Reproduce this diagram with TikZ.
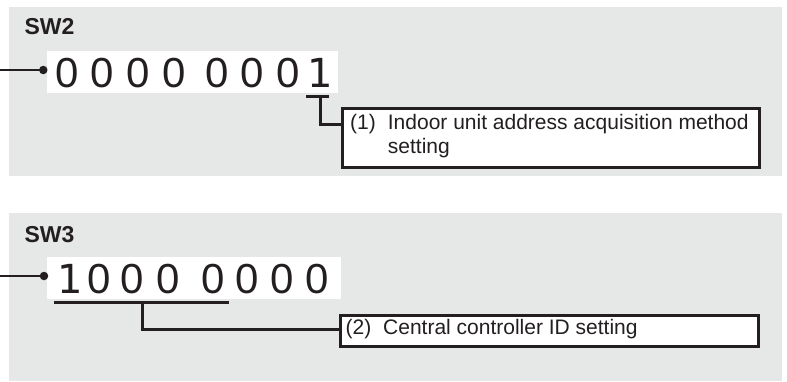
\documentclass[tikz,border=0pt]{standalone}
\usepackage{fontspec}
\setmainfont{Liberation Sans}
\newfontfamily\footedfont{DejaVu Sans}
\definecolor{panelgray}{HTML}{E6E7E7}
\definecolor{ink}{HTML}{231F20}
\begin{document}
\begin{tikzpicture}[x=1pt,y=-1pt,
  panel/.style={fill=panelgray,draw=none},
  strip/.style={fill=white,draw=none},
  digit/.style={anchor=base,inner sep=0pt,text=ink,font=\fontsize{42}{42}\selectfont},
  onedigit/.style={digit,font=\footedfont\fontsize{40}{40}\selectfont},
  swlabel/.style={anchor=base west,inner sep=0pt,text=ink,font=\bfseries\fontsize{23}{23}\selectfont},
  boxtext/.style={anchor=base west,inner sep=0pt,text=ink,font=\fontsize{21}{25}\selectfont},
  labelbox/.style={draw=ink,line width=3pt,fill=white},
  conn/.style={draw=ink,line width=3pt},
  feed/.style={draw=ink,line width=2pt},
  dotmark/.style={circle,fill=ink,inner sep=0pt,minimum size=8.5pt}
]
\useasboundingbox (0,0) rectangle (787,381);
% panels
\fill[panel] (9,7) rectangle (782,176);
\fill[panel] (9,213) rectangle (782,381);
% white strips
\fill[strip] (46.7,51) rectangle (338,93);
\fill[strip] (47,257) rectangle (341,299);
% labels
\node[swlabel] (sw2) at (24.3,34) {SW2};
\node[swlabel] (sw3) at (24.3,242) {SW3};
% SW2 digits
\node[digit] (a1) at (66.7,87) {0};
\node[digit] (a2) at (102.3,87) {0};
\node[digit] (a3) at (138,87) {0};
\node[digit] (a4) at (173.7,87) {0};
\node[digit] (a5) at (216.7,87) {0};
\node[digit] (a6) at (252.3,87) {0};
\node[digit] (a7) at (288,87) {0};
\node[onedigit] (a8) at (320,87) {1};
% SW3 digits
\node[onedigit] (b1) at (70,293) {1};
\node[digit] (b2) at (98.8,293) {0};
\node[digit] (b3) at (132.5,293) {0};
\node[digit] (b4) at (168.3,293) {0};
\node[digit] (b5) at (213,293) {0};
\node[digit] (b6) at (246.7,293) {0};
\node[digit] (b7) at (281.7,293) {0};
\node[digit] (b8) at (316.7,293) {0};
% feed lines with dots
\coordinate (in1) at (0,70);
\node[dotmark] (d1) at (43.3,70) {};
\draw[feed] (in1) -- (d1.center);
\coordinate (in2) at (0,276);
\node[dotmark] (d2) at (44,276) {};
\draw[feed] (in2) -- (d2.center);
% boxes
\node[labelbox,anchor=north west,minimum width=417.3pt,minimum height=59.3pt,inner sep=0pt] (box1) at (340.7,106.7) {};
\node[boxtext] (t1a) at (350,129) {(1)};
\node[boxtext] (t1b) at (387.7,129) {Indoor unit address acquisition method};
\node[boxtext] (t1c) at (387.7,153.3) {setting};
\node[labelbox,anchor=north west,minimum width=418pt,minimum height=31pt,inner sep=0pt] (box2) at (339,314) {};
\node[boxtext] (t2a) at (345.5,334.5) {(2)};
\node[boxtext] (t2b) at (383,334.5) {Central controller ID setting};
% brackets
\coordinate (u1l) at (306,96.7);
\coordinate (u1r) at (329.3,96.7);
\coordinate (u1m) at (320,96.7);
\draw[conn] (u1l) -- (u1r);
\draw[conn] (u1m) |- (box1.west |- 0,124);
\coordinate (u2l) at (54,302.3);
\coordinate (u2r) at (229,302.3);
\coordinate (u2m) at (142,302.3);
\draw[conn] (u2l) -- (u2r);
\draw[conn] (u2m) |- (box2.west |- 0,329);
\end{tikzpicture}
\end{document}
